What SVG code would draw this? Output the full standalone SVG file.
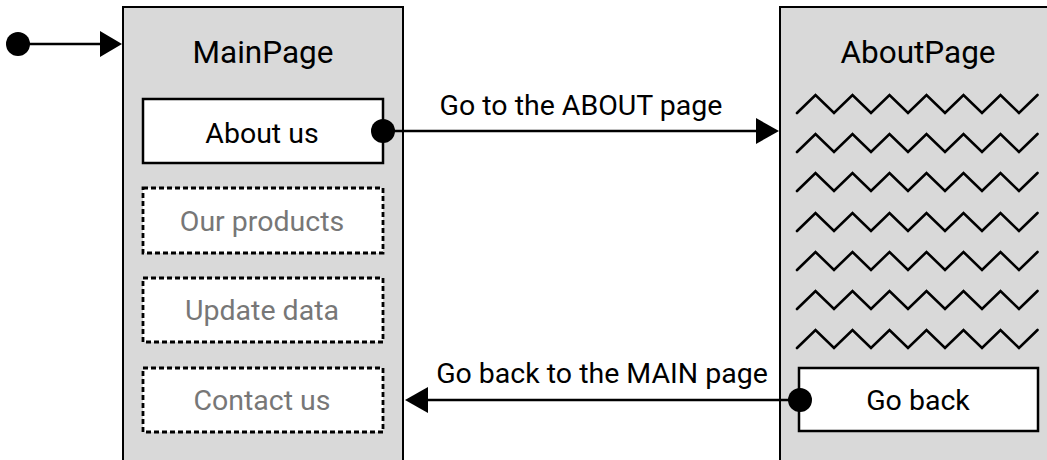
<svg xmlns="http://www.w3.org/2000/svg" width="1047" height="460" viewBox="0 0 1047 460">
<style>
.panel{fill:#d9d9d9;stroke:#000;stroke-width:2}
.box{fill:#fff;stroke:#000;stroke-width:2.5}
.dbox{fill:#fff;stroke:#000;stroke-width:2.8;stroke-dasharray:5 3}
.t{font-family:Roboto,"Liberation Sans",sans-serif;font-size:28.5px;text-anchor:middle;fill:#000}
.h{font-size:31.5px}
.g{fill:#777}
.zz{fill:none;stroke:#000;stroke-width:2.6;stroke-linecap:round;stroke-linejoin:miter}
.ln{stroke:#000;stroke-width:2.5;fill:none}
</style>
<defs>
<polyline id="zig" points="797,18 815.5,0 834,18 852.5,0 871,18 889.5,0 908,18 926.5,0 945,18 963.5,0 982,18 1000.5,0 1019,18 1037.5,0"/>
</defs>
<g id="MainPage">
<rect class="panel" x="123" y="7" width="280" height="470"/>
<text class="t h" x="263" y="62.5">MainPage</text>
</g>
<g id="AboutUs">
<rect class="box" x="143" y="99" width="240" height="64"/>
<text class="t" x="262" y="142.5">About us</text>
</g>
<g id="OurProducts">
<rect class="dbox" x="143" y="188" width="240" height="65"/>
<text class="t g" x="262" y="231">Our products</text>
</g>
<g id="UpdateData">
<rect class="dbox" x="143" y="278" width="240" height="64"/>
<text class="t g" x="262" y="320">Update data</text>
</g>
<g id="ContactUs">
<rect class="dbox" x="143" y="368" width="240" height="64"/>
<text class="t g" x="262" y="410">Contact us</text>
</g>
<g id="AboutPage">
<rect class="panel" x="780" y="7" width="290" height="470"/>
<text class="t h" x="918" y="62.5">AboutPage</text>
<g class="zz">
<use href="#zig" y="95"/>
<use href="#zig" y="134"/>
<use href="#zig" y="173"/>
<use href="#zig" y="213"/>
<use href="#zig" y="252"/>
<use href="#zig" y="291"/>
<use href="#zig" y="330"/>
</g>
</g>
<g id="GoBack">
<rect class="box" x="799" y="368" width="239" height="63"/>
<text class="t" x="918" y="410">Go back</text>
</g>
<g id="connectors">
<circle cx="18" cy="44" r="12"/>
<line class="ln" x1="18" y1="44" x2="102" y2="44"/>
<polygon points="100,31 122,44 100,57"/>
<circle cx="383" cy="131" r="12"/>
<line class="ln" x1="383" y1="131" x2="758" y2="131"/>
<polygon points="756,118 779,131 756,144"/>
<text class="t" x="581" y="115">Go to the ABOUT page</text>
<circle cx="800" cy="400" r="12"/>
<line class="ln" x1="800" y1="400" x2="426" y2="400"/>
<polygon points="428,387 405,400 428,413"/>
<text class="t" x="602" y="383">Go back to the MAIN page</text>
</g>
</svg>
